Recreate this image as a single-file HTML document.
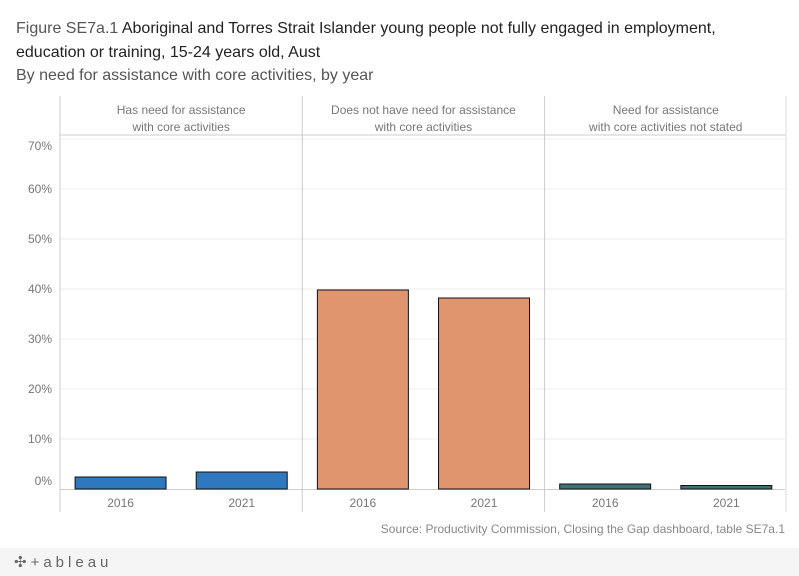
<!DOCTYPE html>
<html><head><meta charset="utf-8"><style>
body{margin:0;width:799px;height:576px;background:#fff;font-family:"Liberation Sans",sans-serif;position:relative;overflow:hidden}
.t{position:absolute;left:16px;font-size:16px;color:#222;white-space:nowrap}
</style></head><body>
<div class="t" style="top:20px"><span style="color:#555">Figure SE7a.1</span> Aboriginal and Torres Strait Islander young people not fully engaged in employment,</div>
<div class="t" style="top:44px">education or training, 15-24 years old, Aust</div>
<div class="t" style="top:67px;color:#555">By need for assistance with core activities, by year</div>
<svg id="c" width="799" height="576" style="position:absolute;left:0;top:0"></svg>
<div style="position:absolute;left:0;top:548px;width:799px;height:28px;background:#f5f5f5"></div>
<div style="position:absolute;left:14px;top:553px;font-size:15px;color:#666;letter-spacing:4px">✣+ableau</div>
<script>
const panels=["Has need for assistance|with core activities","Does not have need for assistance|with core activities","Need for assistance|with core activities not stated"];
const years=["2016","2021"];
const values=[[2.4,3.4],[39.8,38.2],[1.0,0.7]];
const colors=["#2e78bf","#e0956e","#3d7275"];
const ticks=[0,10,20,30,40,50,60,70];
const svg=document.getElementById('c');const NS="http://www.w3.org/2000/svg";
function mk(t,a,p){const e=document.createElementNS(NS,t);for(const k in a)e.setAttribute(k,a[k]);(p||svg).appendChild(e);return e;}
const y=v=>489-v*5;const px0=60,pw=242.3;
ticks.forEach(t=>{if(t>0)mk('line',{x1:60,x2:785,y1:y(t),y2:y(t),stroke:'#eee'});
const off=t==0?-4:(t==70?11:4);
const l=mk('text',{x:52,y:y(t)+off,'text-anchor':'end','font-size':12,fill:'#777'});l.textContent=t+'%';

});
mk('line',{x1:60,x2:785,y1:135,y2:135,stroke:'#ccc'});
mk('line',{x1:60,x2:785,y1:489.5,y2:489.5,stroke:'#ccc'});
for(let i=0;i<3;i++)mk('line',{x1:px0+i*pw,x2:px0+i*pw,y1:96,y2:512,stroke:'#ccc'});
mk('line',{x1:786,x2:786,y1:96,y2:512,stroke:'#ddd'});
panels.forEach((p,i)=>{p.split('|').forEach((s,j)=>{const t=mk('text',{x:px0+pw*(i+.5),y:114+j*17,'text-anchor':'middle','font-size':12,fill:'#777'});t.textContent=s;

});
years.forEach((yr,j)=>{const cx=px0+pw*i+pw*(j*2+1)/4;const v=values[i][j];
const r=mk('rect',{x:cx-45.5,y:y(v),width:91,height:489-y(v),fill:colors[i],stroke:'#111','stroke-width':1});


const t=mk('text',{x:cx,y:507,'text-anchor':'middle','font-size':12,fill:'#777'});t.textContent=yr;

});});
const s=mk('text',{x:785,y:533,'text-anchor':'end','font-size':12,fill:'#888'});s.textContent="Source: Productivity Commission, Closing the Gap dashboard, table SE7a.1";


</script>
</body></html>
